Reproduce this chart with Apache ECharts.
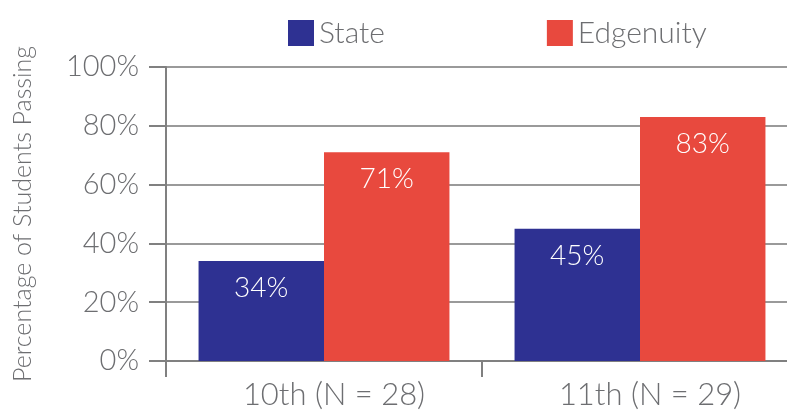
<!DOCTYPE html>
<html>
<head>
<meta charset="utf-8">
<script src="https://cdn.jsdelivr.net/npm/echarts@6/dist/echarts.min.js"></script>
<style>
    html, body { margin: 0; padding: 0; background: #fff; }
    #chart { width: 787px; height: 410px; }
</style>
</head>
<body>
<div id="chart"></div>
<script>
    // data
    var grades = ['10th (N = 28)', '11th (N = 29)'];
    var seriesNames = ['State', 'Edgenuity'];
    var stateVals = [34, 45];
    var edgenuityVals = [71, 83];

    var textColor = '#6d6e71';
    var fontName = 'Lato';

    var myChart = echarts.init(document.getElementById('chart'));

    var valueLabel = {
        show: true,
        position: 'insideTop',
        distance: 13,
        color: '#fff',
        fontFamily: fontName,
        fontWeight: 300,
        fontSize: 28,
        formatter: '{c}%'
    };

    var option = {
        animation: false,
        textStyle: { fontFamily: fontName },
        legend: {
            top: 13,
            left: 283,
            itemWidth: 26,
            itemHeight: 26,
            itemGap: 162,
            icon: 'rect',
            textStyle: { color: textColor, fontSize: 30, fontWeight: 300, fontFamily: fontName },
            data: seriesNames
        },
        grid: { left: 166, right: -11, top: 67, bottom: 49, outerBoundsMode: 'none' },
        xAxis: {
            type: 'category',
            data: grades,
            axisLine: { lineStyle: { color: '#808080', width: 2 } },
            axisTick: { show: true, length: 16, lineStyle: { color: '#808080', width: 2 } },
            axisLabel: { color: textColor, fontSize: 31, fontWeight: 300, margin: 18, padding: [0, 0, 0, 20], fontFamily: fontName }
        },
        yAxis: {
            type: 'value',
            min: 0,
            max: 100,
            interval: 20,
            name: 'Percentage of Students Passing',
            nameLocation: 'middle',
            nameGap: 131,
            nameTextStyle: { color: textColor, fontSize: 25, fontWeight: 300, fontFamily: fontName },
            axisLine: { show: true, lineStyle: { color: '#808080', width: 2 } },
            axisTick: { show: true, length: 17, lineStyle: { color: '#808080', width: 2 } },
            axisLabel: { color: textColor, fontSize: 29, fontWeight: 300, margin: 27, formatter: '{value}%', fontFamily: fontName },
            splitLine: { lineStyle: { color: '#9a9a9a', width: 2 } }
        },
        series: [
            {
                name: seriesNames[0],
                type: 'bar',
                data: stateVals,
                barGap: '0%',
                barCategoryGap: '20.6%',
                itemStyle: { color: '#2e3192' },
                label: valueLabel
            },
            {
                name: seriesNames[1],
                type: 'bar',
                data: edgenuityVals,
                itemStyle: { color: '#e8493e' },
                label: valueLabel
            }
        ]
    };

    myChart.setOption(option);
</script>
</body>
</html>
